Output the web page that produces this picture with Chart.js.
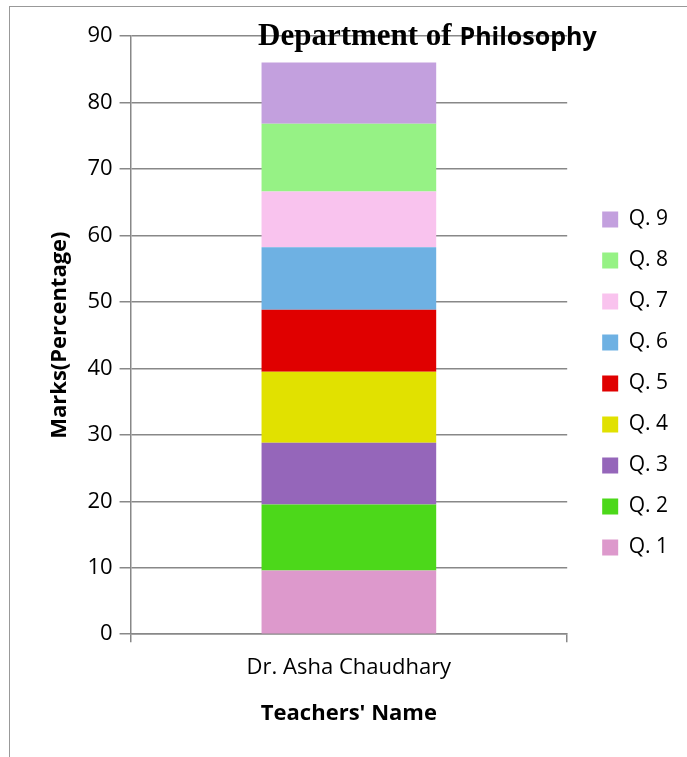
<!DOCTYPE html>
<html>
<head>
<meta charset="utf-8">
<script src="https://cdn.jsdelivr.net/npm/chart.js@4.4.1/dist/chart.umd.min.js"></script>
<style>
  html, body { margin: 0; padding: 0; background: #fff; }
  #frame { position: absolute; left: 9px; top: 6px; width: 700px; height: 800px; border: 1.5px solid #999; }
  #wrap { position: absolute; left: 0; top: 0; width: 687px; height: 757px; }
</style>
</head>
<body>
<div id="frame"></div>
<div id="wrap"><canvas id="chart"></canvas></div>
<script>
// data
const teachers = ['Dr. Asha Chaudhary'];
const questions = ['Q. 1', 'Q. 2', 'Q. 3', 'Q. 4', 'Q. 5', 'Q. 6', 'Q. 7', 'Q. 8', 'Q. 9'];
const marks = [9.6, 9.9, 9.3, 10.7, 9.3, 9.4, 8.4, 10.2, 9.2];
const yMax = 90;
const yStep = 10;

const colors = ['#dd99cc', '#4cd81a', '#9566ba', '#e1e100', '#e00000', '#6eb1e3', '#f9c3ee', '#96f285', '#c3a0de'];

const FONT = '"Open Sans", sans-serif';

// title with two fonts, drawn over the top gridline
const titlePlugin = {
  id: 'mixedTitle',
  afterDraw(chart) {
    const c = chart.ctx;
    c.save();
    c.fillStyle = '#000';
    c.textBaseline = 'alphabetic';
    c.font = 'bold 31px "Liberation Serif", serif';
    const first = 'Department of ';
    c.fillText(first, 258, 45);
    const w = c.measureText(first).width;
    c.font = 'bold 25px ' + FONT;
    c.fillText('Philosophy', 258 + w, 45);
    c.restore();
  }
};

const datasets = questions.map((q, i) => ({
  label: q,
  data: [marks[i]],
  backgroundColor: colors[i],
  borderWidth: 0,
  barPercentage: 0.4,
  categoryPercentage: 1
}));

new Chart(document.getElementById('chart'), {
  type: 'bar',
  data: { labels: teachers, datasets },
  plugins: [titlePlugin],
  options: {
    responsive: true,
    maintainAspectRatio: false,
    animation: false,
    layout: { padding: { left: 43, top: 36, right: 9, bottom: 26 } },
    plugins: {
      legend: {
        position: 'right',
        reverse: true,
        labels: {
          font: { family: FONT, size: 21 },
          color: '#000',
          boxWidth: 16,
          boxHeight: 16,
          padding: 20
        }
      },
      tooltip: { enabled: false }
    },
    scales: {
      x: {
        stacked: true,
        grid: { display: true, drawOnChartArea: false, color: '#888', lineWidth: 1.5, tickLength: 8 },
        border: { color: '#888', width: 1.5 },
        ticks: { font: { family: FONT, size: 22 }, color: '#000', padding: 12 },
        title: { display: true, text: "Teachers' Name", font: { family: FONT, size: 22, weight: 'bold' }, color: '#000', padding: { top: 8 } }
      },
      y: {
        stacked: true,
        min: 0,
        max: yMax,
        grid: { color: '#888', lineWidth: 1.5, tickLength: 11 },
        border: { color: '#888', width: 1.5 },
        ticks: { stepSize: yStep, font: { family: FONT, size: 22 }, color: '#000', padding: 7 },
        title: { display: true, text: 'Marks(Percentage)', font: { family: FONT, size: 22, weight: 'bold' }, color: '#000', padding: { bottom: 7 } }
      },
      // empty spacer between the plot and the legend
      gap: {
        type: 'linear',
        position: 'right',
        grid: { display: false },
        border: { display: false },
        ticks: { display: false },
        afterFit: s => { s.width = 15; }
      }
    }
  }
});
</script>
</body>
</html>
